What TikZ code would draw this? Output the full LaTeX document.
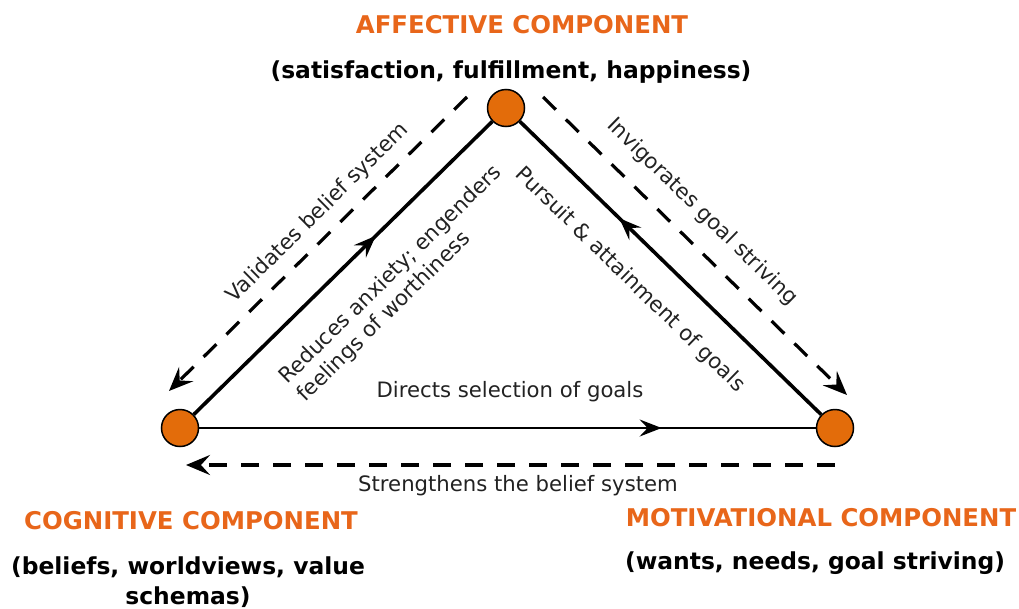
\documentclass[tikz,border=0pt]{standalone}
\usepackage{fontspec}
\setmainfont{DejaVu Sans}
\usetikzlibrary{arrows.meta,decorations.markings}
\definecolor{orng}{HTML}{E36C0A}
\definecolor{hdr}{HTML}{E8661A}
\definecolor{txt}{HTML}{222222}
\tikzset{
  comp/.style={circle,draw=black,line width=1.5pt,fill=orng,minimum size=37pt,inner sep=0pt},
  mainline/.style={line width=3.6pt},
  baseline/.style={line width=2.3pt},
  midarrow/.style={postaction={decorate},decoration={markings,
      mark=at position #1 with {\arrow{Stealth[length=22pt,width=17pt,inset=8pt]}}}},
  dasharrow/.style={line width=3.2pt,dash pattern=on 18pt off 14pt,
      -{Stealth[length=24pt,width=20pt,inset=9pt]}},
  lbl/.style={font=\fontsize{21.2}{25.5}\selectfont,text=txt,inner sep=0pt},
  head/.style={font=\fontsize{24.4}{29}\selectfont\bfseries,text=hdr,inner sep=0pt},
  sub/.style={font=\fontsize{23.4}{30}\selectfont\bfseries,text=black,inner sep=0pt,align=center},
}
\begin{document}
\begin{tikzpicture}[x=1pt,y=-1pt]
\useasboundingbox (0,0) rectangle (1019,608);
% nodes
\node[comp] (cog) at (180,428) {};
\node[comp] (aff) at (506,108) {};
\node[comp] (mot) at (835,428) {};
% main triangle
\draw[mainline,midarrow=0.61] (cog) -- (aff);
\draw[mainline,midarrow=0.67] (mot) -- (aff);
\draw[baseline,midarrow=0.75] (cog) -- (mot);
% dashed arrows
\coordinate (vs) at (467,97);
\coordinate (ve) at (169,391);
\coordinate (is) at (543,97);
\coordinate (ie) at (847,395);
\coordinate (ss) at (835,465);
\coordinate (se) at (186,465);
\draw[dasharrow] (vs) -- (ve);
\draw[dasharrow] (is) -- (ie);
\draw[dasharrow] (ss) -- (se);
% labels
\node[lbl,rotate=44.5] (lv) at (318,213) {Validates belief system};
\node[lbl,rotate=44.5,align=left] (lr) at (400,284) {Reduces anxiety; engenders\\feelings of worthiness};
\node[lbl,rotate=-44.3] (lp) at (630,280) {Pursuit \& attainment of goals};
\node[lbl,rotate=-44.3] (li) at (702,212) {Invigorates goal striving};
\node[lbl] (ld) at (510,392) {Directs selection of goals};
\node[lbl] (ls) at (518,486) {Strengthens the belief system};
% headings
\node[head] (ha) at (522,25) {AFFECTIVE COMPONENT};
\node[sub] (sa) at (511,72) {(satisfaction, fulfillment, happiness)};
\node[head] (hc) at (191,521) {COGNITIVE COMPONENT};
\node[sub] (sc) at (188,582) {(beliefs, worldviews, value\\schemas)};
\node[head] (hm) at (821,518) {MOTIVATIONAL COMPONENT};
\node[sub] (sm) at (815,563) {(wants, needs, goal striving)};
\end{tikzpicture}
\end{document}
